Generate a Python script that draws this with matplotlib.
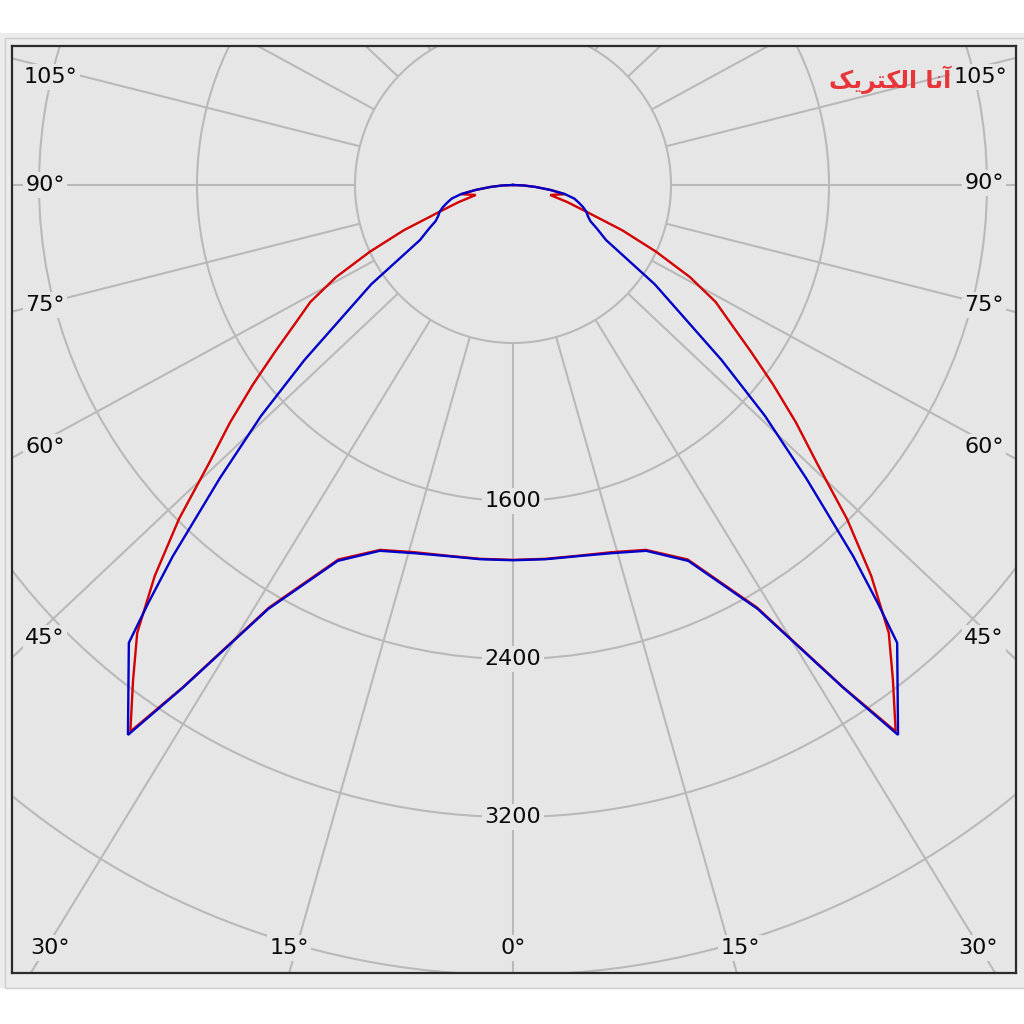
import numpy as np
import matplotlib
matplotlib.use("Agg")
import matplotlib.pyplot as plt
from matplotlib.patches import Rectangle, Circle

# ---------------- data (angle from nadir in degrees, intensity in cd) ----------------
red_angles = [0, 5, 10, 15, 20, 25, 30, 33.3, 35, 37.5, 40, 42.5, 45, 47.5, 50, 52.5,
              55, 57.5, 60, 62.5, 65, 67.5, 70, 72.5, 75, 80, 82.5, 85, 87.5, 90]
red_cd = [1898, 1900, 1906, 1925, 1966, 2092, 2470, 3040, 3378, 3160, 2960, 2685, 2392,
          2090, 1870, 1660, 1470, 1310, 1185, 1010, 800, 598, 395, 290, 195, 268, 190,
          115, 55, 0]

blue_angles = [0, 5, 10, 15, 20, 25, 30, 33.3, 35, 40, 41.1, 42.5, 45, 47.5, 50, 55,
               59.4, 62.5, 65, 67.5, 70, 72.5, 75, 77.5, 80, 82.5, 85, 87.5, 90]
blue_cd = [1900, 1902, 1908, 1930, 1971, 2100, 2479, 3046, 3399, 3026, 2810, 2550,
           2099, 1730, 1378, 876, 547, 480, 432, 410, 395, 372, 345, 318, 268, 190,
           115, 55, 0]

ring_values = [800, 1600, 2400, 3200, 4000, 4800, 5600]
ring_label_values = [1600, 2400, 3200]
spoke_angles = list(range(0, 360, 15))

left_labels = ["105°", "90°", "75°", "60°", "45°"]
right_labels = ["105°", "90°", "75°", "60°", "45°"]
bottom_labels = ["30°", "15°", "0°", "15°", "30°"]
logo_text = "\ufb8f\ufbfe\ufeae\ufe98\ufb91\ufedf\ufe8d \ufe8e\ufee7\ufe81"

# ---------------- styling ----------------
BG = "#e6e6e6"
GRID = "#b9b9b9"
RED = "#d40000"
BLUE = "#0000c8"
W, H = 1024, 1024
CX, CY = 513, 185          # pixel position of the pole
S = 800 / 158.0            # cd per pixel
FL, FT, FR, FB = 12, 46, 1016, 973

fig = plt.figure(figsize=(W / 100, H / 100), dpi=100)
fig.patch.set_facecolor("white")
fig.add_artist(Rectangle((0, 1 - 988 / H), 1, (988 - 33) / H, transform=fig.transFigure,
                         fc="#ebebeb", ec="none", zorder=0))
fig.add_artist(Rectangle((5 / W, 1 - 988 / H), 1.0, (988 - 38) / H, transform=fig.transFigure,
                         fc="none", ec="#cdcdcd", lw=1.0, zorder=0))

ax = fig.add_axes([FL / W, 1 - FB / H, (FR - FL) / W, (FB - FT) / H])
ax.set_facecolor(BG)
ax.set_xlim((FL - CX) * S, (FR - CX) * S)
ax.set_ylim(-(FB - CY) * S, (CY - FT) * S)
ax.set_xticks([])
ax.set_yticks([])
for sp in ax.spines.values():
    sp.set_color("#2b2b2b")
    sp.set_linewidth(1.6)

# rings
for rv in ring_values:
    ax.add_patch(Circle((0, 0), rv, fill=False, ec=GRID, lw=1.5, zorder=1))

# spokes (drawn from the first ring outwards)
for a in spoke_angles:
    t = np.radians(a)
    d = np.array([1.06 * np.sin(t), -np.cos(t)])
    d = d / np.hypot(*d)
    ax.plot([800 * d[0], 9000 * d[0]], [800 * d[1], 9000 * d[1]], color=GRID, lw=1.5,
            zorder=1, solid_capstyle="butt")


def mirror(angles, values):
    a = np.asarray(angles, float)
    v = np.asarray(values, float)
    th = np.radians(np.concatenate([-a[::-1], a[1:]]))
    r = np.concatenate([v[::-1], v[1:]])
    return r * np.sin(th), -r * np.cos(th)


xr, yr = mirror(red_angles, red_cd)
xb, yb = mirror(blue_angles, blue_cd)
ax.plot(xr, yr, color=RED, lw=1.7, zorder=3, solid_joinstyle="miter")
ax.plot(xb, yb, color=BLUE, lw=1.7, zorder=4, solid_joinstyle="miter")

FONT = "DejaVu Sans"
FS = 16
box = dict(boxstyle="square,pad=0.12", fc=BG, ec="none")


def px_text(px, py, s, **kw):
    ax.text((px - CX) * S, (CY - py) * S, s, ha="center", va="center", fontsize=FS,
            family=FONT, color="#0a0a0a", bbox=box, zorder=5, **kw)


for v in ring_label_values:
    ax.text(0, -v, str(v), ha="center", va="center", fontsize=FS, family=FONT,
            color="#0a0a0a", bbox=box, zorder=5)

left_y = [77, 185, 305, 447, 638]
for s, py in zip(left_labels, left_y):
    px_text(45 if len(s) < 4 else 50, py, s)
right_y = [77, 183, 305, 447, 638]
for s, py in zip(right_labels, right_y):
    px_text(984 if len(s) < 4 else 980, py, s)
bottom_x = [50, 289, 513, 740, 978]
for s, px in zip(bottom_labels, bottom_x):
    px_text(px, 948, s)

# logo watermark
ax.text((890 - CX) * S, (CY - 80) * S, logo_text, ha="center", va="center",
        fontsize=17, family="DejaVu Sans", fontweight="bold", color="#e8353a", zorder=6)

fig.savefig("out.png", dpi=100, facecolor=fig.get_facecolor())
